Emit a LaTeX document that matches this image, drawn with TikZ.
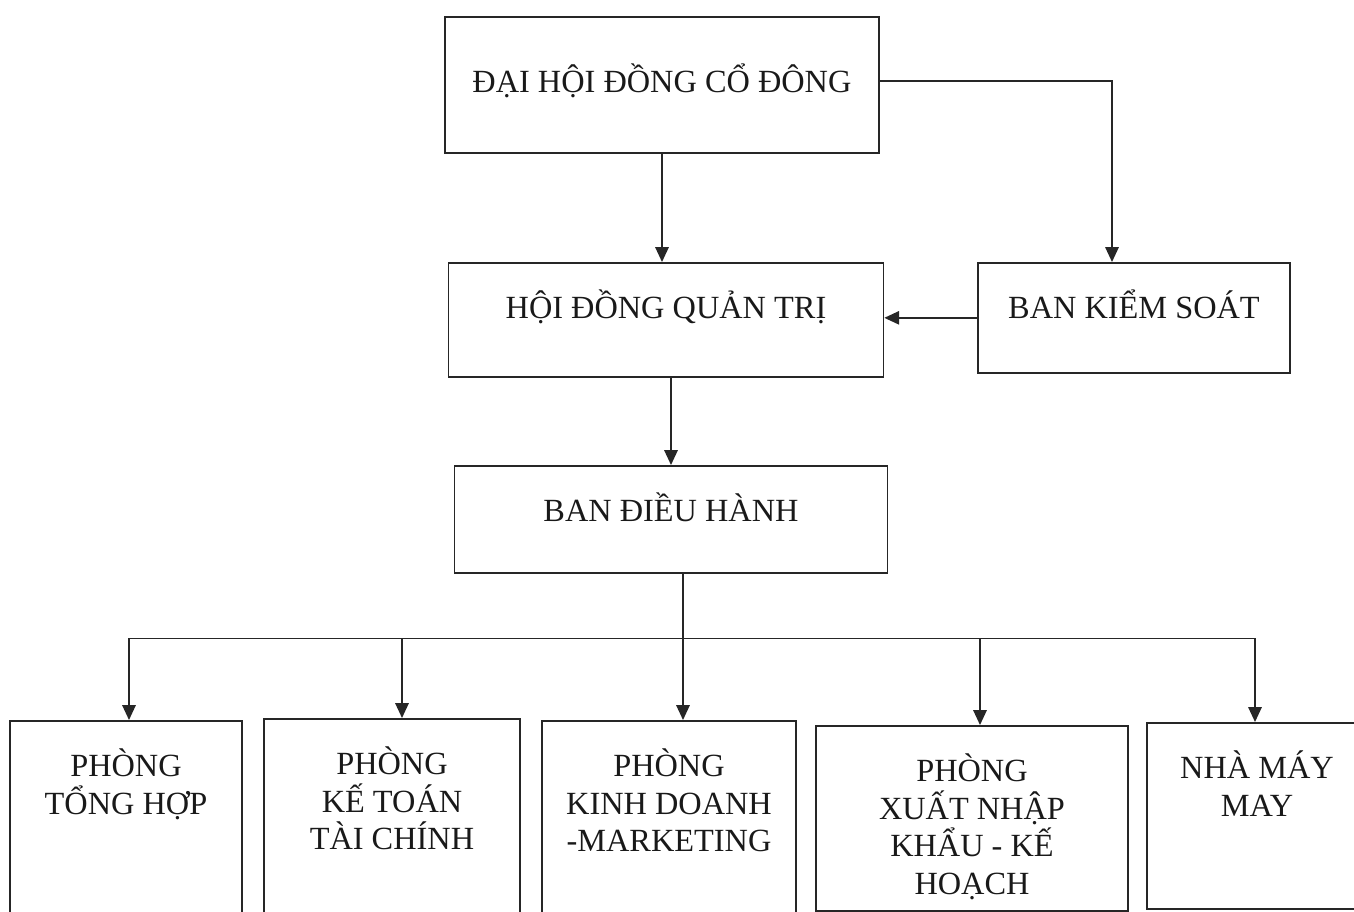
\documentclass[tikz,border=0pt]{standalone}
\usepackage{fontspec}
\setmainfont{Liberation Serif}
\usetikzlibrary{arrows.meta,calc}

\newlength\px
\setlength\px{0.025cm}
%% text block of a box: [first baseline]{width}{height}{lines}
\newcommand\boxtext[4][56]{\parbox[t][#3\px][t]{#2\px}{\centering\rule{0pt}{#1\px}#4}}

\tikzset{
  orgbox/.style = {draw=black!85, line width=1.2pt, inner sep=0pt, anchor=north,
                   text=black!90, font=\fontsize{23}{26.7}\selectfont},
  link/.style   = {draw=black!85, line width=1.1pt,
                   -{Triangle[length=10.5pt,width=9.5pt]}}
}

\begin{document}
\begin{tikzpicture}[x=0.025cm, y=-0.025cm]
  \useasboundingbox (0,0) rectangle (1354,912);
  \clip (0,0) rectangle (1354,912);
  %% top levels
  \node[orgbox] (dhdcd) at (662,16)  {\boxtext[76]{434}{136}{ĐẠI HỘI ĐỒNG CỔ ĐÔNG}};
  \node[orgbox] (hdqt)  at (666,262) {\boxtext{435}{114}{HỘI ĐỒNG QUẢN TRỊ}};
  \node[orgbox] (bks)   at (1134,262) {\boxtext{312}{110}{BAN KIỂM SOÁT}};
  \node[orgbox] (bdh)   at (671,465) {\boxtext{433}{107}{BAN ĐIỀU HÀNH}};
  %% departments
  \node[orgbox] (tonghop)   at (126,720)  {\boxtext{232}{215}{PHÒNG\\TỔNG HỢP}};
  \node[orgbox] (ketoan)    at (392,718)  {\boxtext{256}{217}{PHÒNG\\KẾ TOÁN\\TÀI CHÍNH}};
  \node[orgbox] (kinhdoanh) at (669,720)  {\boxtext{254}{215}{PHÒNG\\KINH DOANH\\-MARKETING}};
  \node[orgbox] (xnk)       at (972,725)  {\boxtext{312}{185}{PHÒNG\\XUẤT NHẬP\\KHẨU - KẾ\\HOẠCH}};
  \node[orgbox] (nhamay)    at (1257,722) {\boxtext{220}{186}{NHÀ MÁY\\MAY}};

  \draw[link] (dhdcd.south) -- (dhdcd.south |- hdqt.north);
  \draw[link] ($(dhdcd.east)+(0,-4)$) -| ($(bks.north)+(-22,0)$);
  \draw[link] (bks.west) -- (bks.west -| hdqt.east);
  \draw[link] (bdh.north |- hdqt.south) -- (bdh.north);
  %% bus under the board
  \coordinate (bus) at ($(bdh.south)+(12,65)$);
  \draw[link] ($(bdh.south)+(12,0)$) -- ($(kinhdoanh.north)+(14,0)$);
  \draw[link] (bus) -| ($(tonghop.north)+(3,0)$);
  \draw[link] (bus) -| ($(ketoan.north)+(10,0)$);
  \draw[link] (bus) -| ($(xnk.north)+(8,0)$);
  \draw[link] (bus) -| ($(nhamay.north)+(-2,0)$);
\end{tikzpicture}
\end{document}
